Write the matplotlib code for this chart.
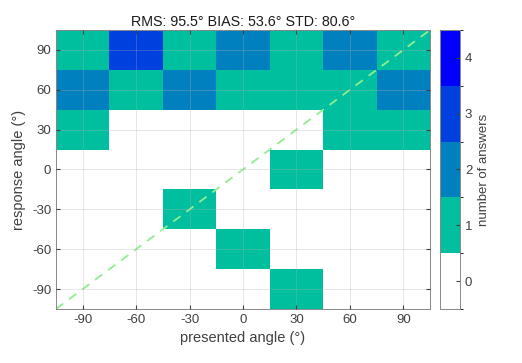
import numpy as np
import matplotlib
matplotlib.use("Agg")
import matplotlib.pyplot as plt
from matplotlib.colors import ListedColormap, BoundaryNorm

# data
angles = [-90, -60, -30, 0, 30, 60, 90]          # presented (x) and response (y)
# counts[row][col], rows = response angle from -90 up to 90
counts = [
    [0, 0, 0, 0, 1, 0, 0],   # -90
    [0, 0, 0, 1, 0, 0, 0],   # -60
    [0, 0, 1, 0, 0, 0, 0],   # -30
    [0, 0, 0, 0, 1, 0, 0],   # 0
    [1, 0, 0, 0, 0, 1, 1],   # 30
    [2, 1, 2, 1, 1, 1, 2],   # 60
    [1, 3, 1, 2, 1, 2, 1],   # 90
]
levels = [0, 1, 2, 3, 4]
title = "RMS: 95.5° BIAS: 53.6° STD: 80.6°"

plt.rcParams["font.family"] = ["Liberation Sans", "DejaVu Sans"]
plt.rcParams["axes.unicode_minus"] = False
txt = "#404040"

cmap = ListedColormap(["#ffffff", "#00bf9f", "#0080bf", "#0040df", "#0000ff"])
norm = BoundaryNorm(np.arange(-0.5, 5.0, 1.0), cmap.N)

fig = plt.figure(figsize=(5.22, 3.63), dpi=100)
ax = fig.add_axes([0.1073, 0.1488, 0.7165, 0.7686])
cax = fig.add_axes([0.843, 0.1488, 0.0383, 0.7686])

edges = np.arange(-105, 106, 30)
mesh = ax.pcolormesh(edges, edges, np.array(counts), cmap=cmap, norm=norm)
ax.plot([-105, 105], [-105, 105], ls="--", color="#90ee90", lw=1.3, dashes=(5, 4))

ax.set_xlim(-105, 105)
ax.set_ylim(-105, 105)
ax.set_xticks(angles)
ax.set_yticks(angles)
ax.grid(True, color="#b0b0b0", alpha=0.35, lw=0.6)
ax.set_axisbelow(False)
ax.tick_params(colors=txt, labelsize=9.5, length=3, direction="in", top=True, right=True)
for s in ax.spines.values():
    s.set_color("#888888")
    s.set_linewidth(0.7)
ax.set_xlabel("presented angle (°)", color=txt, fontsize=10.5)
ax.set_ylabel("response angle (°)", color=txt, fontsize=10.5)
ax.set_title(title, fontsize=10.3, color="#1a1a1a", pad=3)

cb = fig.colorbar(mesh, cax=cax, ticks=levels)
cb.ax.tick_params(colors=txt, labelsize=9.5, length=3, direction="in")
cb.outline.set_edgecolor("#888888")
cb.outline.set_linewidth(0.7)
cb.set_label("number of answers", color=txt, fontsize=9.5, labelpad=4)

fig.savefig("out.png", dpi=100)
